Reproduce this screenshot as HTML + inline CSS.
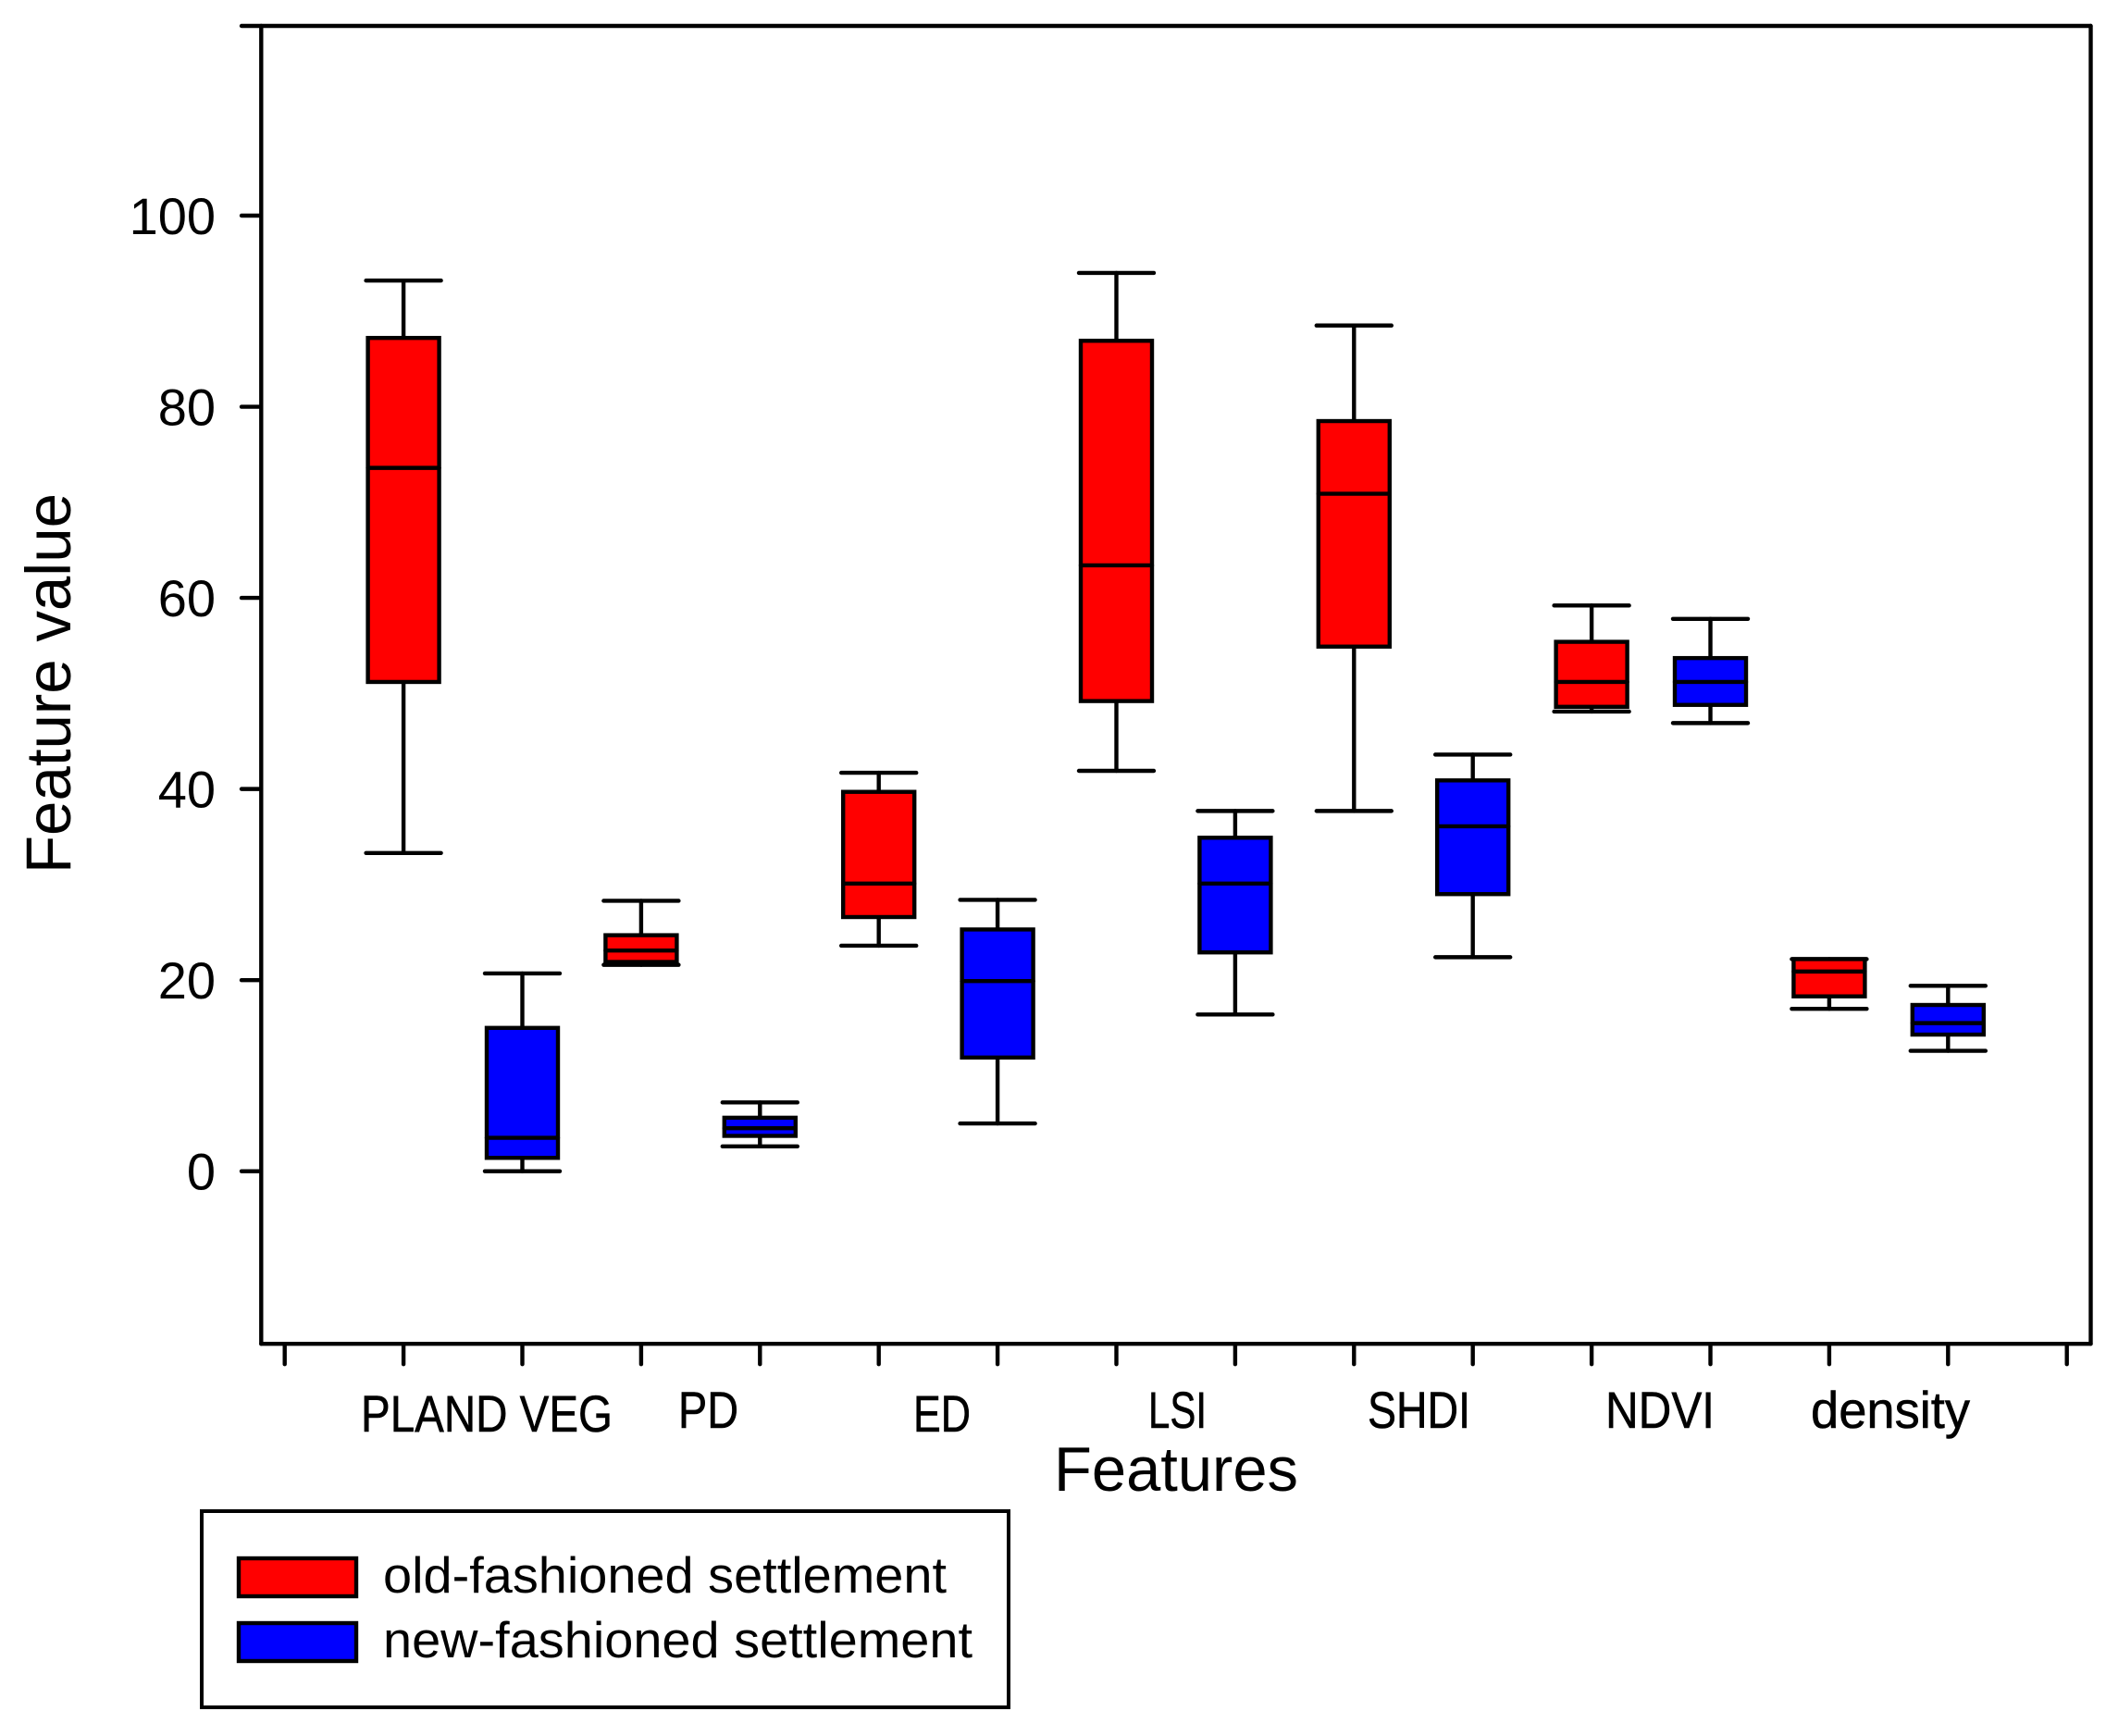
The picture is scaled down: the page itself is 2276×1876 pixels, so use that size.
<!DOCTYPE html>
<html lang="en">
<head>
<meta charset="utf-8">
<title>Feature value box plot</title>
<style>
html,body{margin:0;padding:0;background:#fff;}
svg{display:block;}
text{font-family:"Liberation Sans",Arial,sans-serif;fill:#000;}
</style>
</head>
<body>
<svg id="chart" xmlns="http://www.w3.org/2000/svg" width="2276" height="1876" viewBox="0 0 2276 1876">
  <rect x="0" y="0" width="2276" height="1876" fill="#ffffff"/>
  <g id="axes"></g>
  <g id="marks"></g>

  <text transform="translate(76,944) rotate(-90)" font-size="69" textLength="411" lengthAdjust="spacingAndGlyphs">Feature value</text>
  <text x="1139" y="1611" font-size="68" textLength="264" lengthAdjust="spacingAndGlyphs">Features</text>

  <g font-size="56" stroke="#000" stroke-width="0.6">
    <text x="390" y="1547" textLength="272" lengthAdjust="spacingAndGlyphs">PLAND VEG</text>
    <text x="733" y="1543" textLength="65" lengthAdjust="spacingAndGlyphs">PD</text>
    <text x="987" y="1547" textLength="62" lengthAdjust="spacingAndGlyphs">ED</text>
    <text x="1241" y="1543" textLength="63" lengthAdjust="spacingAndGlyphs">LSI</text>
    <text x="1478" y="1543" textLength="111" lengthAdjust="spacingAndGlyphs">SHDI</text>
    <text x="1735" y="1543" textLength="118" lengthAdjust="spacingAndGlyphs">NDVI</text>
    <text x="1957" y="1543" textLength="172" lengthAdjust="spacingAndGlyphs">density</text>
  </g>

  <g>
    <rect x="218" y="1633" width="872" height="212" fill="#fff" stroke="#000" stroke-width="4"/>
    <rect x="258" y="1684" width="127" height="41" fill="#ff0000" stroke="#000" stroke-width="4.4"/>
    <text x="414" y="1721" font-size="55" textLength="609" lengthAdjust="spacingAndGlyphs">old-fashioned settlement</text>
    <rect x="258" y="1754" width="127" height="41" fill="#0000ff" stroke="#000" stroke-width="4.4"/>
    <text x="414" y="1791" font-size="55" textLength="637" lengthAdjust="spacingAndGlyphs">new-fashioned settlement</text>
  </g>
</svg>

<script>
const categories = ["PLAND VEG", "PD", "ED", "LSI", "SHDI", "NDVI", "density"];
const yTickValues = [0, 20, 40, 60, 80, 100];

const oldMax    = [93.2, 28.3, 41.7, 94.0, 88.5, 59.2, 22.2];
const oldQ3     = [87.2, 24.7, 39.7, 86.9, 78.5, 55.4, 22.2];
const oldMedian = [73.6, 23.1, 30.1, 63.4, 70.9, 51.2, 20.9];
const oldQ1     = [51.2, 21.9, 26.6, 49.2, 54.9, 48.6, 18.3];
const oldMin    = [33.3, 21.6, 23.6, 41.9, 37.7, 48.1, 17.0];

const newMax    = [20.7, 7.2, 28.4, 37.7, 43.6, 57.8, 19.4];
const newQ3     = [15.0, 5.6, 25.3, 34.9, 40.9, 53.7, 17.4];
const newMedian = [3.5, 4.5, 19.9, 30.1, 36.1, 51.2, 15.5];
const newQ1     = [1.4, 3.7, 11.9, 22.9, 29.0, 48.8, 14.3];
const newMin    = [0.0, 2.6, 5.0, 16.4, 22.4, 46.9, 12.6];

const SVG_NS = "http://www.w3.org/2000/svg";
const axesLayer = document.getElementById("axes");
const marksLayer = document.getElementById("marks");

const PLOT_LEFT = 282.3, PLOT_RIGHT = 2259.5, PLOT_TOP = 28, PLOT_BOTTOM = 1452.2;
const Y_ZERO = 1265.7, PX_PER_UNIT = 10.327;
const SLOT_START = 307.7, SLOT_STEP = 128.4;
const BOX_WIDTH = 77, CAP_WIDTH = 81;
const LINE_W = 4.4;

function yScale(v) { return Y_ZERO - v * PX_PER_UNIT; }
function xSlot(slot) { return SLOT_START + slot * SLOT_STEP; }

function makeLine(x1, y1, x2, y2, w) {
  const l = document.createElementNS(SVG_NS, "line");
  l.setAttribute("x1", x1);
  l.setAttribute("y1", y1);
  l.setAttribute("x2", x2);
  l.setAttribute("y2", y2);
  l.setAttribute("stroke", "#000");
  l.setAttribute("stroke-width", w);
  l.setAttribute("stroke-linecap", "round");
  return l;
}

/* frame */
const leftAxis = makeLine(PLOT_LEFT, PLOT_TOP, PLOT_LEFT, PLOT_BOTTOM, LINE_W);


axesLayer.appendChild(leftAxis);

const rightAxis = makeLine(PLOT_RIGHT, PLOT_TOP, PLOT_RIGHT, PLOT_BOTTOM, LINE_W);


axesLayer.appendChild(rightAxis);

const topAxis = makeLine(261, PLOT_TOP, PLOT_RIGHT, PLOT_TOP, LINE_W);


axesLayer.appendChild(topAxis);

const bottomAxis = makeLine(PLOT_LEFT, PLOT_BOTTOM, PLOT_RIGHT, PLOT_BOTTOM, LINE_W);


axesLayer.appendChild(bottomAxis);

/* y ticks */
yTickValues.forEach(function (v) {
  const tick = makeLine(261, yScale(v), PLOT_LEFT, yScale(v), LINE_W);
  
  
  axesLayer.appendChild(tick);

  const label = document.createElementNS(SVG_NS, "text");
  label.setAttribute("x", 233);
  label.setAttribute("y", yScale(v) + 20);
  label.setAttribute("font-size", "56");
  label.setAttribute("text-anchor", "end");
  label.textContent = String(v);
  
  
  axesLayer.appendChild(label);
});

/* x ticks: one at each box slot plus one either side */
const slotCount = categories.length * 2 + 2;
for (let k = 0; k < slotCount; k++) {
  const xt = makeLine(xSlot(k), PLOT_BOTTOM, xSlot(k), PLOT_BOTTOM + 22, LINE_W);
  
  
  axesLayer.appendChild(xt);
}

function drawBox(cat, slot, series, color, hi, q3, med, q1, lo) {
  const cx = xSlot(slot);
  const key = cat.toLowerCase().replace(/\s+/g, '-') + '-' + series;

  const g = document.createElementNS(SVG_NS, "g");
  
  

  const upper = makeLine(cx, yScale(hi), cx, yScale(q3), LINE_W);
  
  
  g.appendChild(upper);

  const lower = makeLine(cx, yScale(q1), cx, yScale(lo), LINE_W);
  
  
  g.appendChild(lower);

  const capHi = makeLine(cx - CAP_WIDTH / 2, yScale(hi), cx + CAP_WIDTH / 2, yScale(hi), LINE_W);
  
  
  g.appendChild(capHi);

  const capLo = makeLine(cx - CAP_WIDTH / 2, yScale(lo), cx + CAP_WIDTH / 2, yScale(lo), LINE_W);
  
  
  g.appendChild(capLo);

  const r = document.createElementNS(SVG_NS, "rect");
  r.setAttribute("x", cx - BOX_WIDTH / 2);
  r.setAttribute("y", yScale(q3));
  r.setAttribute("width", BOX_WIDTH);
  r.setAttribute("height", yScale(q1) - yScale(q3));
  r.setAttribute("fill", color);
  r.setAttribute("stroke", "#000");
  r.setAttribute("stroke-width", LINE_W);
  
  
  g.appendChild(r);

  const m = makeLine(cx - BOX_WIDTH / 2, yScale(med), cx + BOX_WIDTH / 2, yScale(med), LINE_W);
  
  
  g.appendChild(m);

  marksLayer.appendChild(g);
}

categories.forEach(function (cat, i) {
  drawBox(cat, 2 * i + 1, 'old', '#ff0000', oldMax[i], oldQ3[i], oldMedian[i], oldQ1[i], oldMin[i]);
  drawBox(cat, 2 * i + 2, 'new', '#0000ff', newMax[i], newQ3[i], newMedian[i], newQ1[i], newMin[i]);
});
</script>
</body>
</html>
